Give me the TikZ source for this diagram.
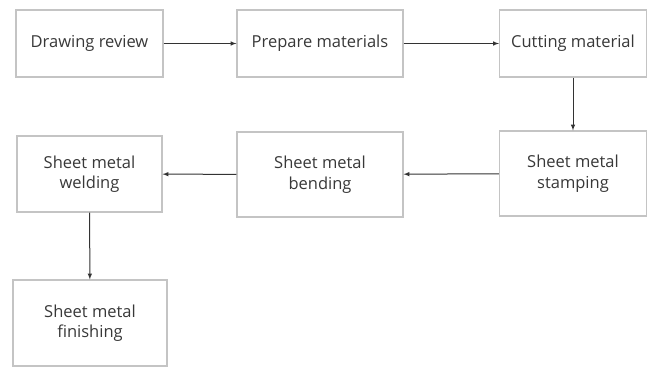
\documentclass[tikz,border=0pt]{standalone}
\usepackage{fontspec}
\setmainfont{Open Sans}
\usetikzlibrary{arrows,positioning}
\definecolor{boxline}{HTML}{C4C4C4}
\definecolor{txt}{HTML}{383838}
\tikzset{
    block/.style = {draw=boxline, rectangle, line width=1.1pt, text=txt,
        align=center, inner sep=2pt,
        font=\fontsize{16.5}{20.5}\selectfont},
    arrow/.style={draw, -latex, line width=1pt, color=black!80}
}

\begin{document}
\begin{tikzpicture}[x=1pt,y=-1pt]
    \useasboundingbox (0,0) rectangle (648,370);
    \node[block,minimum width=147,minimum height=67] (review) at (89.5,43.5) {Drawing review};
    \node[block,minimum width=166,minimum height=67] (prepare) at (320,43.5) {Prepare materials};
    \node[block,minimum width=147,minimum height=67] (cutting) at (573,43.5) {Cutting material};
    \node[block,minimum width=147,minimum height=85] (stamping) at (573,173.5) {Sheet metal\\stamping};
    \node[block,minimum width=166,minimum height=85] (bending) at (320,174.5) {Sheet metal\\bending};
    \node[block,minimum width=145,minimum height=76] (welding) at (89.5,174) {Sheet metal\\welding};
    \node[block,minimum width=154,minimum height=86] (finishing) at (90,323) {Sheet metal\\finishing};
    \draw[arrow] (review) -- (prepare);
    \draw[arrow] (prepare) -- (cutting);
    \draw[arrow] (cutting) -- (stamping);
    \draw[arrow] (stamping) -- (bending);
    \draw[arrow] (bending) -- (welding);
    \draw[arrow] (welding) -- (finishing);
\end{tikzpicture}
\end{document}
